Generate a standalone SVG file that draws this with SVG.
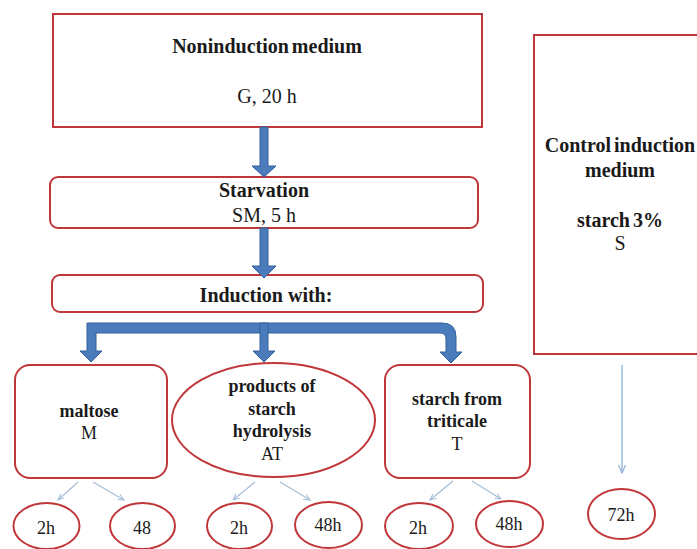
<svg xmlns="http://www.w3.org/2000/svg" width="697" height="549" viewBox="0 0 697 549">
<defs>
<style>
text{font-family:'Liberation Serif',serif;fill:#1a1a1a;text-anchor:middle}
.box{fill:#fff;stroke:#c0373a;stroke-width:2}
.big{font-size:20px}
.mid{font-size:18px}
.b{font-weight:bold}
.arr{fill:#4a7cbc;stroke:#34619a;stroke-width:1}
.thin{stroke:#a7bfd8;stroke-width:1.3;fill:none}
</style>
<marker id="ah" viewBox="0 0 10 10" refX="9" refY="5" markerWidth="7" markerHeight="7" orient="auto" markerUnits="userSpaceOnUse">
<path d="M0,1 L9,5 L0,9" fill="none" stroke="#a7bfd8" stroke-width="1.5"/>
</marker>
<marker id="ah2" viewBox="0 0 10 10" refX="9" refY="5" markerWidth="9" markerHeight="9" orient="auto" markerUnits="userSpaceOnUse">
<path d="M0,1 L9,5 L0,9" fill="none" stroke="#8fb0d8" stroke-width="1.3"/>
</marker>
</defs>
<rect width="697" height="549" fill="#fff"/>

<g id="noninduction">
<rect class="box" x="53" y="14" width="429" height="113"/>
<text class="big b" x="267" y="53" word-spacing="-2">Noninduction medium</text>
<text class="big" x="267" y="103">G, 20 h</text>
</g>

<g id="starvation">
<rect class="box" x="50" y="177" width="428" height="51" rx="8"/>
<text class="big b" x="264" y="197">Starvation</text>
<text class="big" x="264" y="222">SM, 5 h</text>
</g>

<g id="induction">
<rect class="box" x="52" y="275" width="431" height="37" rx="8"/>
<text class="big b" x="266" y="302">Induction with:</text>
</g>

<g id="control">
<rect class="box" x="534" y="35" width="175" height="319"/>
<text class="big b" x="620" y="152" word-spacing="-2">Control induction</text>
<text class="big b" x="620" y="177">medium</text>
<text class="big b" x="620" y="227" word-spacing="-2">starch 3%</text>
<text class="big" x="620" y="250">S</text>
</g>

<g id="maltose">
<rect class="box" x="15" y="365" width="152" height="113" rx="15"/>
<text class="mid b" x="89" y="417">maltose</text>
<text class="mid" x="89" y="439">M</text>
</g>

<g id="hydrolysis">
<ellipse class="box" cx="273.5" cy="420" rx="101.5" ry="57"/>
<text class="mid b" x="272" y="392">products of</text>
<text class="mid b" x="272" y="415">starch</text>
<text class="mid b" x="272" y="437">hydrolysis</text>
<text class="mid" x="272" y="460">AT</text>
</g>

<g id="triticale">
<rect class="box" x="385" y="365" width="145" height="113" rx="15"/>
<text class="mid b" x="457" y="405">starch from</text>
<text class="mid b" x="457" y="427">triticale</text>
<text class="mid" x="457" y="450">T</text>
</g>

<g id="m2h"><ellipse class="box" cx="46.5" cy="526" rx="33" ry="23"/><text class="mid" x="46" y="534">2h</text></g>
<g id="m48"><ellipse class="box" cx="142.5" cy="526" rx="32.5" ry="23"/><text class="mid" x="142" y="534">48</text></g>
<g id="at2h"><ellipse class="box" cx="239.5" cy="526" rx="32.5" ry="23"/><text class="mid" x="239" y="534">2h</text></g>
<g id="at48h"><ellipse class="box" cx="328.5" cy="525" rx="33.5" ry="23"/><text class="mid" x="328" y="531">48h</text></g>
<g id="t2h"><ellipse class="box" cx="419" cy="526" rx="34" ry="23"/><text class="mid" x="418" y="534">2h</text></g>
<g id="t48h"><ellipse class="box" cx="509.5" cy="524" rx="33.5" ry="23"/><text class="mid" x="509" y="530">48h</text></g>
<g id="s72h"><ellipse class="box" cx="621.5" cy="514" rx="33.5" ry="25"/><text class="mid" x="621" y="521">72h</text></g>

<g id="connectors">
<path class="arr" d="M260,127 V166 H252 L264,177 L276,166 H268 V127 Z"/>
<path class="arr" d="M260,228 V266 H252 L264,278 L276,266 H268 V228 Z"/>
<path class="arr" d="M87,323 H442 Q456,323 456,337 V352 H462 L451,363 L440,352 H446 V339 Q446,333 440,333 H96 V351 H102 L91,362 L80,351 H87 Z"/>
<path class="arr" d="M260,323 V351 H253 L264,362 L275,351 H268 V323 Z"/>
<line class="thin" x1="78" y1="482" x2="58" y2="500" marker-end="url(#ah)"/>
<line class="thin" x1="93" y1="482" x2="124" y2="500" marker-end="url(#ah)"/>
<line class="thin" x1="255" y1="482" x2="233" y2="500" marker-end="url(#ah)"/>
<line class="thin" x1="280" y1="482" x2="310" y2="500" marker-end="url(#ah)"/>
<line class="thin" x1="453" y1="481" x2="430" y2="500" marker-end="url(#ah)"/>
<line class="thin" x1="472" y1="481" x2="501" y2="499" marker-end="url(#ah)"/>
<line x1="622" y1="365" x2="622" y2="473" stroke="#8fb0d8" stroke-width="1.3" marker-end="url(#ah2)"/>
</g>
</svg>
